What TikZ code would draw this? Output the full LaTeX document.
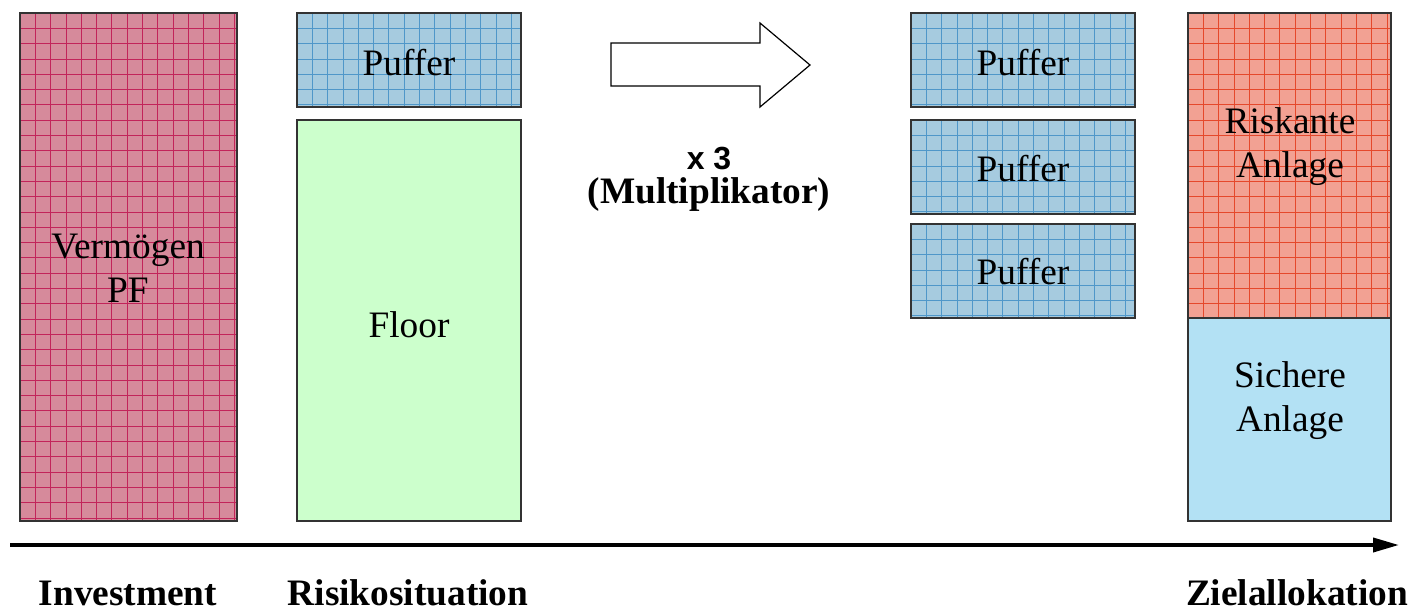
\documentclass[tikz,border=0pt]{standalone}
\usepackage{fontspec}
\setmainfont{Liberation Serif}
\newfontfamily\arialfont{Liberation Sans}
\usetikzlibrary{arrows.meta}
\definecolor{vfill}{HTML}{D68A9B}
\definecolor{vgrid}{HTML}{C2245A}
\definecolor{pfill}{HTML}{A6CBDF}
\definecolor{pgrid}{HTML}{4F97C9}
\definecolor{ffill}{HTML}{CCFFCC}
\definecolor{rfill}{HTML}{F2A193}
\definecolor{rgrid}{HTML}{E5482C}
\definecolor{sfill}{HTML}{B3E1F4}
\definecolor{edge}{HTML}{333333}
\tikzset{
  box/.style={draw=edge, line width=1.1pt, inner sep=0pt, outer sep=0pt, anchor=north west},
  gridline/.style={line width=0.6pt},
  txt/.style={font=\fontsize{28}{33}\selectfont, align=center, inner sep=0pt},
  lbl/.style={font=\fontsize{28}{33}\selectfont\bfseries, inner sep=0pt, anchor=base}
}
% grid inside a box: x0, y0, w, h, colour
\newcommand\mygrid[5]{%
  \begin{scope}
    \clip (#1,#2) rectangle ++(#3,#4);
    \foreach \k in {1,...,34}{
      \draw[gridline, #5] (#1+\k*15.3,#2) -- ++(0,#4);
      \draw[gridline, #5] (#1,#2+\k*15.3) -- ++(#3,0);
    }
  \end{scope}}
\begin{document}
\begin{tikzpicture}[x=0.75pt,y=-0.75pt]
\useasboundingbox (0,0) rectangle (1411,611);
% fills and grids
\fill[vfill] (20,13) rectangle ++(217,508);
\mygrid{20}{13}{217}{508}{vgrid}
\fill[pfill] (297,13) rectangle ++(224,94);
\mygrid{297}{13}{224}{94}{pgrid}
\fill[pfill] (911,13) rectangle ++(224,94);
\mygrid{911}{13}{224}{94}{pgrid}
\fill[pfill] (911,120) rectangle ++(224,94);
\mygrid{911}{120}{224}{94}{pgrid}
\fill[pfill] (911,224) rectangle ++(224,94);
\mygrid{911}{224}{224}{94}{pgrid}
\fill[rfill] (1188,13) rectangle ++(203,305);
\mygrid{1188}{13}{203}{305}{rgrid}
% boxes
\node[box, minimum width=217*0.75pt, minimum height=508*0.75pt] (verm) at (20,13) {};
\node[box, minimum width=224*0.75pt, minimum height=94*0.75pt] (puf0) at (297,13) {};
\node[box, fill=ffill, minimum width=224*0.75pt, minimum height=401*0.75pt] (floor) at (297,120) {};
\node[box, minimum width=224*0.75pt, minimum height=94*0.75pt] (puf1) at (911,13) {};
\node[box, minimum width=224*0.75pt, minimum height=94*0.75pt] (puf2) at (911,120) {};
\node[box, minimum width=224*0.75pt, minimum height=94*0.75pt] (puf3) at (911,224) {};
\node[box, minimum width=203*0.75pt, minimum height=305*0.75pt] (risk) at (1188,13) {};
\node[box, fill=sfill, minimum width=203*0.75pt, minimum height=203*0.75pt] (sich) at (1188,318) {};
% texts
\node[txt] (tverm) at (128,268) {Vermögen\\PF};
\node[txt] (tpuf0) at (409,63) {Puffer};
\node[txt] (tfloor) at (409,325) {Floor};
\node[txt] (tpuf1) at (1023,63) {Puffer};
\node[txt] (tpuf2) at (1023,169) {Puffer};
\node[txt] (tpuf3) at (1023,272) {Puffer};
\node[txt] (trisk) at (1290,147) {Riskante\\Anlage};
\node[txt] (tsich) at (1290,401) {Sichere\\Anlage};
% block arrow
\draw[line width=0.9pt, fill=white] (611,43) -- (760,43) -- (760,23) -- (810,65) -- (760,107) -- (760,86) -- (611,86) -- cycle;
\node[font=\arialfont\bfseries\fontsize{24}{28}\selectfont, inner sep=0pt, anchor=base] (mult1) at (709,169) {x 3};
\node[lbl] (mult2) at (709,203) {(Multiplikator)};
% axis
\coordinate (axL) at (10,545);
\coordinate (axR) at (1399,545);
\draw[line width=2.8pt, -{Triangle[length=19.5pt, width=10.5pt]}] (axL) -- (axR);
% labels
\node[lbl] (inv) at (128,605) {Investment};
\node[lbl] (rsit) at (408,605) {Risikosituation};
\node[lbl] (ziel) at (1297,605) {Zielallokation};
\end{tikzpicture}
\end{document}
